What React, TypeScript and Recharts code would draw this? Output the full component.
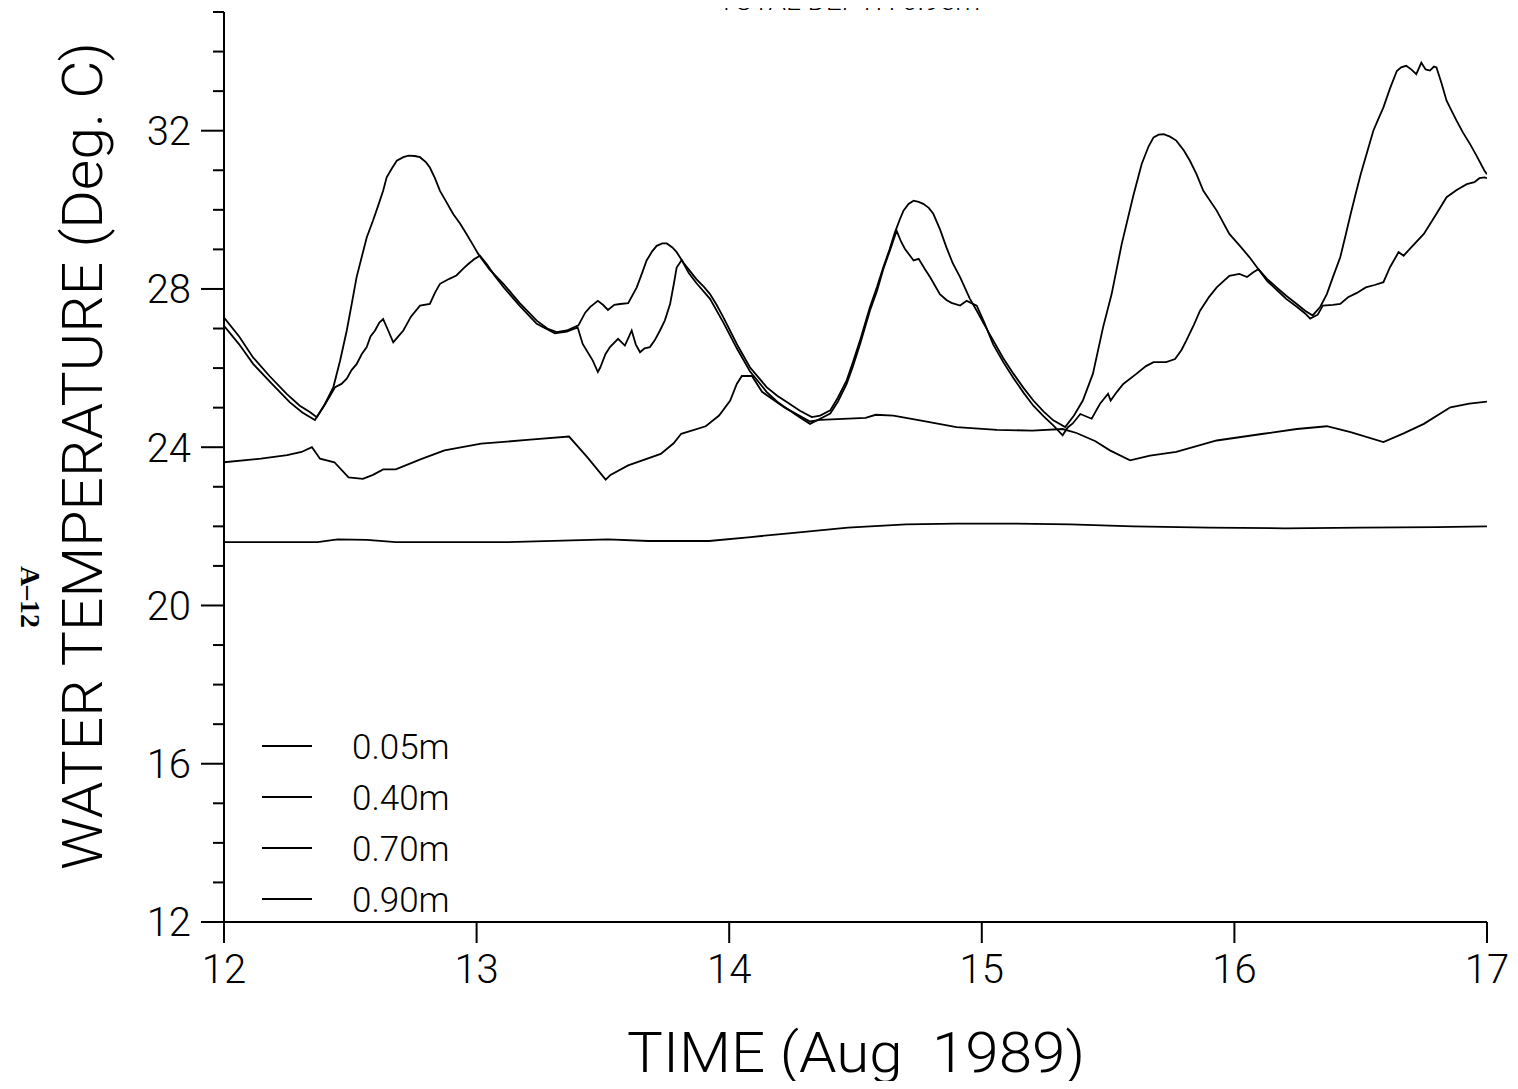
import React from "react";
import { Line, LineChart, XAxis, YAxis } from "recharts";

// time in days of August 1989, temperature in deg C, one pair of arrays per depth
const t005 = [
  12.0, 12.06, 12.115, 12.18, 12.248, 12.3, 12.34, 12.367, 12.4, 12.433, 12.46, 12.486, 12.505, 12.525, 12.545,
  12.565, 12.59, 12.61, 12.63, 12.644, 12.665, 12.684, 12.71, 12.73, 12.755, 12.776, 12.8, 12.815, 12.835, 12.855,
  12.88, 12.908, 12.935, 12.96, 12.985, 13.007, 13.05, 13.106, 13.17, 13.238, 13.28, 13.317, 13.357, 13.403, 13.43,
  13.449, 13.48, 13.5, 13.52, 13.545, 13.568, 13.6, 13.634, 13.655, 13.673, 13.695, 13.713, 13.735, 13.753, 13.775,
  13.792, 13.818, 13.845, 13.87, 13.9, 13.924, 13.95, 13.977, 14.03, 14.082, 14.148, 14.19, 14.228, 14.28, 14.327,
  14.36, 14.4, 14.43, 14.465, 14.49, 14.518, 14.557, 14.585, 14.61, 14.635, 14.656, 14.675, 14.69, 14.71, 14.73,
  14.75, 14.768, 14.79, 14.808, 14.835, 14.86, 14.885, 14.914, 14.953, 14.98, 15.01, 15.045, 15.085, 15.125, 15.165,
  15.204, 15.245, 15.283, 15.33, 15.365, 15.4, 15.44, 15.48, 15.514, 15.554, 15.6, 15.633, 15.66, 15.68, 15.7,
  15.72, 15.745, 15.77, 15.8, 15.824, 15.85, 15.877, 15.93, 15.98, 16.02, 16.06, 16.095, 16.13, 16.167, 16.205,
  16.247, 16.28, 16.31, 16.34, 16.366, 16.39, 16.419, 16.44, 16.46, 16.48, 16.5, 16.525, 16.55, 16.57, 16.59,
  16.615, 16.643, 16.66, 16.68, 16.7, 16.72, 16.74, 16.757, 16.774, 16.79, 16.8, 16.82, 16.84, 16.86, 16.88,
  16.905, 16.933, 16.96, 16.99, 17.0,
];
const temp005 = [
  27.28, 26.8, 26.27, 25.8, 25.35, 25.05, 24.89, 24.76, 25.1, 25.52, 26.2, 26.95, 27.6, 28.3, 28.8,
  29.3, 29.73, 30.1, 30.48, 30.82, 31.05, 31.24, 31.33, 31.37, 31.36, 31.33, 31.2, 31.07, 30.8, 30.48,
  30.2, 29.89, 29.65, 29.39, 29.12, 28.88, 28.5, 28.13, 27.65, 27.2, 27.0, 26.91, 26.95, 27.08, 27.4,
  27.54, 27.7, 27.6, 27.47, 27.6, 27.62, 27.64, 28.04, 28.4, 28.72, 28.95, 29.09, 29.15, 29.15, 29.05,
  28.93, 28.67, 28.45, 28.25, 28.05, 27.87, 27.6, 27.28, 26.61, 26.02, 25.52, 25.3, 25.14, 24.92, 24.76,
  24.8, 24.93, 25.25, 25.69, 26.15, 26.7, 27.54, 28.05, 28.55, 29.0, 29.43, 29.75, 29.98, 30.15, 30.23,
  30.2, 30.15, 30.05, 29.9, 29.5, 29.05, 28.65, 28.3, 27.75, 27.45, 27.1, 26.7, 26.25, 25.86, 25.5,
  25.18, 24.9, 24.68, 24.51, 24.8, 25.18, 25.86, 27.03, 27.87, 29.14, 30.36, 31.16, 31.6, 31.83, 31.9,
  31.91, 31.85, 31.75, 31.5, 31.24, 30.9, 30.48, 29.98, 29.39, 29.1, 28.8, 28.5, 28.25, 28.04, 27.83,
  27.62, 27.45, 27.33, 27.55, 27.87, 28.3, 28.8, 29.35, 29.89, 30.4, 30.9, 31.45, 32.0, 32.3, 32.59,
  33.05, 33.51, 33.6, 33.64, 33.55, 33.43, 33.72, 33.55, 33.52, 33.62, 33.6, 33.2, 32.76, 32.5, 32.25,
  31.95, 31.66, 31.35, 30.99, 30.9,
];

const t040 = [
  12.0, 12.06, 12.116, 12.19, 12.26, 12.31, 12.36, 12.393, 12.42, 12.44, 12.465, 12.486, 12.505, 12.525, 12.545,
  12.565, 12.58, 12.598, 12.615, 12.63, 12.65, 12.67, 12.69, 12.71, 12.74, 12.776, 12.815, 12.835, 12.855, 12.89,
  12.92, 12.945, 12.967, 12.99, 13.013, 13.04, 13.07, 13.106, 13.17, 13.238, 13.31, 13.357, 13.4, 13.42, 13.46,
  13.48, 13.49, 13.51, 13.528, 13.56, 13.587, 13.6, 13.614, 13.63, 13.647, 13.665, 13.686, 13.705, 13.726, 13.745,
  13.766, 13.78, 13.792, 13.812, 13.84, 13.87, 13.924, 13.977, 14.03, 14.082, 14.148, 14.19, 14.228, 14.28, 14.32,
  14.36, 14.4, 14.43, 14.465, 14.49, 14.518, 14.557, 14.585, 14.61, 14.635, 14.663, 14.68, 14.696, 14.73, 14.75,
  14.775, 14.795, 14.834, 14.86, 14.88, 14.914, 14.94, 14.98, 15.01, 15.045, 15.085, 15.125, 15.165, 15.204, 15.245,
  15.283, 15.32, 15.34, 15.36, 15.39, 15.435, 15.468, 15.5, 15.51, 15.535, 15.56, 15.613, 15.65, 15.68, 15.73,
  15.765, 15.79, 15.81, 15.84, 15.864, 15.9, 15.93, 15.98, 16.02, 16.05, 16.075, 16.095, 16.13, 16.167, 16.205,
  16.247, 16.28, 16.3, 16.33, 16.35, 16.39, 16.419, 16.45, 16.485, 16.52, 16.555, 16.59, 16.616, 16.65, 16.67,
  16.7, 16.75, 16.8, 16.84, 16.88, 16.92, 16.95, 16.97, 16.99, 17.0,
];
const temp040 = [
  27.07, 26.6, 26.1, 25.6, 25.14, 24.88, 24.69, 25.01, 25.3, 25.52, 25.6, 25.73, 25.95, 26.1, 26.35,
  26.53, 26.8, 26.95, 27.15, 27.24, 26.95, 26.65, 26.8, 26.95, 27.3, 27.58, 27.62, 27.9, 28.13, 28.25,
  28.34, 28.5, 28.63, 28.75, 28.84, 28.63, 28.35, 28.05, 27.58, 27.12, 26.88, 26.92, 27.03, 26.61, 26.19,
  25.9, 26.02, 26.35, 26.53, 26.74, 26.57, 26.75, 26.95, 26.6, 26.4, 26.5, 26.53, 26.7, 26.95, 27.2,
  27.62, 28.1, 28.54, 28.73, 28.4, 28.15, 27.75, 27.15, 26.5, 25.92, 25.4, 25.15, 24.98, 24.75, 24.59,
  24.72, 24.85, 25.15, 25.6, 26.05, 26.6, 27.45, 27.95, 28.5, 28.95, 29.47, 29.2, 29.01, 28.72, 28.76,
  28.5, 28.3, 27.87, 27.72, 27.65, 27.58, 27.7, 27.58, 27.15, 26.6, 26.15, 25.75, 25.38, 25.05, 24.78,
  24.55, 24.3, 24.5, 24.6, 24.84, 24.72, 25.1, 25.35, 25.18, 25.4, 25.6, 25.86, 26.05, 26.15, 26.15,
  26.23, 26.45, 26.7, 27.1, 27.45, 27.8, 28.04, 28.33, 28.38, 28.3, 28.42, 28.5, 28.2, 27.98, 27.75,
  27.55, 27.38, 27.25, 27.35, 27.58, 27.6, 27.62, 27.79, 27.9, 28.04, 28.1, 28.17, 28.55, 28.93, 28.84,
  29.05, 29.39, 29.9, 30.32, 30.5, 30.65, 30.7, 30.8, 30.82, 30.8,
];

const t070 = [
  12.0, 12.146, 12.25, 12.307, 12.348, 12.365, 12.38, 12.437, 12.493, 12.55, 12.59, 12.63, 12.68, 12.78, 12.873,
  13.018, 13.212, 13.366, 13.438, 13.511, 13.53, 13.6, 13.729, 13.78, 13.81, 13.907, 13.96, 14.004, 14.03, 14.05,
  14.09, 14.13, 14.22, 14.32, 14.36, 14.54, 14.58, 14.65, 14.755, 14.9, 15.06, 15.2, 15.32, 15.375, 15.45,
  15.507, 15.587, 15.666, 15.77, 15.93, 16.115, 16.247, 16.366, 16.46, 16.59, 16.67, 16.75, 16.855, 16.93, 17.0,
];
const temp070 = [
  23.62, 23.71, 23.8, 23.88, 24.0, 23.85, 23.71, 23.62, 23.24, 23.2, 23.3, 23.44, 23.44, 23.7, 23.92,
  24.09, 24.19, 24.27, 23.75, 23.18, 23.3, 23.54, 23.83, 24.1, 24.34, 24.53, 24.8, 25.18, 25.6, 25.8,
  25.8, 25.4, 25.0, 24.65, 24.69, 24.74, 24.82, 24.8, 24.68, 24.51, 24.44, 24.42, 24.46, 24.36, 24.15,
  23.92, 23.67, 23.79, 23.88, 24.17, 24.34, 24.46, 24.53, 24.38, 24.13, 24.35, 24.59, 25.01, 25.1, 25.15,
];

const t090 = [
  12.0, 12.37, 12.45, 12.566, 12.68, 13.115, 13.52, 13.68, 13.92, 14.085, 14.246, 14.47, 14.7, 14.9, 15.1,
  15.35, 15.6, 15.9, 16.2, 16.5, 16.8, 17.0,
];
const temp090 = [
  21.6, 21.6, 21.67, 21.66, 21.6, 21.6, 21.67, 21.63, 21.63, 21.73, 21.83, 21.97, 22.05, 22.07, 22.07,
  22.05, 22.0, 21.97, 21.95, 21.97, 21.98, 22.0,
];

const depthLabels = ["0.05m", "0.40m", "0.70m", "0.90m"];
const xTicks = [12, 13, 14, 15, 16, 17];
const yTicks = Array.from({ length: 24 }, (_, i) => 12 + i);

const toRows = (t: number[], v: number[]) => t.map((day, i) => ({ day, temp: v[i] }));
const series = [
  toRows(t005, temp005),
  toRows(t040, temp040),
  toRows(t070, temp070),
  toRows(t090, temp090),
];

const FONT = "Roboto, 'DejaVu Sans', sans-serif";

const YTick = (props: any) => {
  const { x, y, payload } = props;
  const major = payload.value % 4 === 0;
  return (
    <g>
      <line x1={x - (major ? 23 : 11)} x2={x} y1={y} y2={y} stroke="#000" strokeWidth={2} />
      {major && (
        <text x={x - 33} y={y} dy="0.36em" textAnchor="end" fontSize={40} fontFamily={FONT} fontWeight={300} fill="#000">
          {payload.value}
        </text>
      )}
    </g>
  );
};

const XTick = (props: any) => {
  const { x, y, payload } = props;
  return (
    <g>
      <line x1={x} x2={x} y1={y} y2={y + 21} stroke="#000" strokeWidth={2} />
      <text x={x} y={y + 61} textAnchor="middle" fontSize={40} fontFamily={FONT} fontWeight={300} fill="#000">
        {payload.value}
      </text>
    </g>
  );
};

export default function App() {
  return (
    <div style={{ position: "relative", width: 1518, height: 1089, margin: -8, background: "#fff", overflow: "hidden" }}>
      <LineChart width={1518} height={1089} margin={{ top: 12, right: 31, bottom: 0, left: 0 }}>
        <XAxis
          type="number"
          dataKey="day"
          domain={[12, 17]}
          ticks={xTicks}
          allowDataOverflow
          height={167}
          tickSize={0}
          tickMargin={0}
          tick={<XTick />}
          axisLine={{ stroke: "#000", strokeWidth: 2 }}
        />
        <YAxis
          type="number"
          domain={[12, 35]}
          ticks={yTicks}
          interval={0}
          allowDataOverflow
          width={224}
          tickSize={0}
          tickMargin={0}
          tick={<YTick />}
          axisLine={{ stroke: "#000", strokeWidth: 2 }}
        />
        {series.map((rows, i) => (
          <Line
            key={depthLabels[i]}
            data={rows}
            dataKey="temp"
            name={depthLabels[i]}
            type="linear"
            stroke="#000"
            strokeWidth={1.8}
            dot={false}
            isAnimationActive={false}
          />
        ))}
      </LineChart>
      <svg width={1518} height={1089} style={{ position: "absolute", left: 0, top: 0, pointerEvents: "none" }}>
        {depthLabels.map((label, i) => (
          <g key={label}>
            <line x1={262} x2={312} y1={746 + i * 51} y2={746 + i * 51} stroke="#000" strokeWidth={2} />
            <text x={352} y={746 + i * 51} dy="0.36em" fontSize={35} fontFamily={FONT} fontWeight={300} fill="#000">
              {label}
            </text>
          </g>
        ))}
        <text x={849} y={10} textAnchor="middle" fontSize={26} fontFamily={FONT} fontWeight={300} textLength={262} lengthAdjust="spacingAndGlyphs">
          TOTAL DEPTH 0.95m
        </text>
        <text x={856} y={1072} textAnchor="middle" fontSize={56} fontFamily={FONT} fontWeight={300} textLength={458} lengthAdjust="spacingAndGlyphs">
          {"TIME (Aug\u00a0\u00a01989)"}
        </text>
        <text transform="translate(102,456) rotate(-90)" textAnchor="middle" fontSize={56} fontFamily={FONT} fontWeight={300} textLength={828} lengthAdjust="spacingAndGlyphs">
          WATER TEMPERATURE (Deg. C)
        </text>
        <text transform="translate(21,597) rotate(90)" textAnchor="middle" fontSize={28} fontFamily="'Liberation Serif', serif" fontWeight={700}>
          A–12
        </text>
      </svg>
    </div>
  );
}
